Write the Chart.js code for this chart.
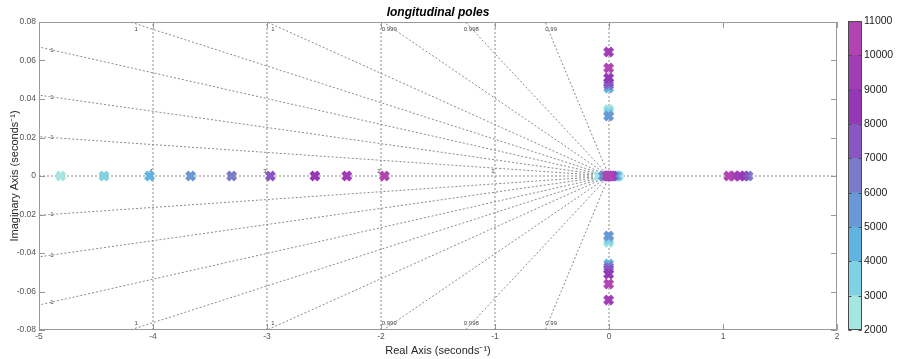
<!DOCTYPE html>
<html><head><meta charset="utf-8">
<script src="https://cdn.jsdelivr.net/npm/chart.js@4"></script>
<style>
html,body{margin:0;padding:0;background:#fff;}
#wrap{position:relative;width:898px;height:359px;overflow:hidden;}
#main{position:absolute;left:0;top:0;}
#cbar{position:absolute;left:840px;top:0;}
</style></head><body>
<div id="wrap"><canvas id="main" width="898" height="359"></canvas><canvas id="cbar" width="58" height="359"></canvas></div>
<script>
// ---- data ----
const speeds       = [2000, 3000, 4000, 5000, 6000, 7000, 8000, 9000, 10000];
const fastReal     = [-4.81, -4.43, -4.03, -3.67, -3.31, -2.97, -2.58, -2.30, -1.97];
const slowReal     = [-0.09, 0.08, 0.06, -0.05, -0.03, 0.035, 0.015, -0.01, 0.0];
const unstableReal = [null, null, null, null, 1.22, 1.19, 1.15, 1.10, 1.05];
const oscRe        = [-0.003, -0.003, -0.003, -0.003, -0.003, -0.003, -0.003, -0.003, -0.003];
const oscIm        = [0.0345, 0.0332, 0.0457, 0.0312, 0.0472, 0.0485, 0.0509, 0.0644, 0.0561];

const xTicks = [-5, -4, -3, -2, -1, 0, 1, 2];
const xTickLabels = ['-5', '-4', '-3', '-2', '-1', '0', '1', '2'];
const yTicks = [-0.08, -0.06, -0.04, -0.02, 0, 0.02, 0.04, 0.06, 0.08];
const yTickLabels = ['-0.08', '-0.06', '-0.04', '-0.02', '0', '0.02', '0.04', '0.06', '0.08'];

// damping-ratio grid lines: end points (upper half) and labels
const dampEnds   = [[-5, 0.0204], [-5, 0.042], [-5, 0.067], [-4.2, 0.08], [-3.0, 0.08], [-1.98, 0.08], [-1.26, 0.08], [-0.56, 0.08]];
const dampLabels = ['1', '1', '1', '1', '1', '0.999', '0.998', '0.99'];
// natural-frequency grid
const wnValues = [0, 1, 2, 3, 4];
const wnLabels = ['', '1', '2', '3', '4'];

// colorbar
const cbTicks  = [2000, 3000, 4000, 5000, 6000, 7000, 8000, 9000, 10000, 11000];
const cbColors = ['#a6e6e0', '#7fd2e4', '#62b4e0', '#6a98d4', '#7a7cca', '#8a56c2', '#9438b8', '#a03cb6', '#b044b0'];

// ---- build ----
const FONT = "'Liberation Sans', Arial, Helvetica, sans-serif";
const XMIN = -5, XMAX = 2, YMIN = -0.08, YMAX = 0.08;

function colorFor(v) {
  let i = Math.floor((v - cbTicks[0]) / (cbTicks[1] - cbTicks[0]));
  i = Math.max(0, Math.min(cbColors.length - 1, i));
  return cbColors[i];
}

const poles = [];
speeds.forEach((v, i) => { poles.push({x: fastReal[i], y: 0, v}); });
speeds.forEach((v, i) => { poles.push({x: slowReal[i], y: 0, v}); });
speeds.forEach((v, i) => { if (unstableReal[i] !== null) poles.push({x: unstableReal[i], y: 0, v}); });
speeds.forEach((v, i) => { poles.push({x: oscRe[i], y: oscIm[i], v}); });
speeds.forEach((v, i) => { poles.push({x: oscRe[i], y: -oscIm[i], v}); });

const gridStyle = {showLine: true, pointRadius: 0, pointHoverRadius: 0, borderColor: '#8a8a8a', borderWidth: 1, borderDash: [2, 2], fill: false, order: 1};
const datasets = [{
  label: 'poles', data: poles, order: 0,
  pointStyle: 'crossRot', pointRadius: 5.5, pointHoverRadius: 5.5, pointBorderWidth: 4.5, pointHoverBorderWidth: 4.5,
  pointBorderColor: c => colorFor(c.raw.v), pointBackgroundColor: c => colorFor(c.raw.v), showLine: false
}];
dampEnds.forEach(e => {
  datasets.push(Object.assign({data: [{x: 0, y: 0}, {x: e[0], y: e[1]}]}, gridStyle));
  datasets.push(Object.assign({data: [{x: 0, y: 0}, {x: e[0], y: -e[1]}]}, gridStyle));
});
wnValues.forEach(w => {
  datasets.push(Object.assign({data: [{x: -w, y: YMIN}, {x: -w, y: YMAX}]}, gridStyle));
});
datasets.push(Object.assign({data: [{x: XMIN, y: 0}, {x: XMAX, y: 0}]}, gridStyle));

const decor = {
  id: 'decor',
  beforeDatasetsDraw(chart) {
    const {ctx, chartArea: a, scales: {x, y}} = chart;
    ctx.save();
    // small grid labels
    ctx.fillStyle = '#444';
    ctx.font = '6px ' + FONT;
    ctx.textAlign = 'center';
    ctx.textBaseline = 'middle';
    dampEnds.forEach((e, i) => {
      const px = x.getPixelForValue(e[0]);
      if (e[1] >= YMAX) {
        ctx.fillText(dampLabels[i], px + 6, a.top + 7);
        ctx.fillText(dampLabels[i], px + 6, a.bottom - 7);
      } else {
        const lx = a.left + 13;
        const v = x.getValueForPixel(lx);
        const vy = e[1] * v / e[0];
        ctx.fillText(dampLabels[i], lx, y.getPixelForValue(vy));
        ctx.fillText(dampLabels[i], lx, y.getPixelForValue(-vy));
      }
    });
    wnValues.forEach((w, i) => {
      if (!wnLabels[i]) return;
      ctx.fillText(wnLabels[i], x.getPixelForValue(-w) - 2, y.getPixelForValue(0) - 5);
    });
    // box
    ctx.strokeStyle = '#9a9a9a';
    ctx.lineWidth = 1;
    ctx.strokeRect(Math.round(a.left) + 0.5, Math.round(a.top) + 0.5, Math.round(a.right - a.left) - 1, Math.round(a.bottom - a.top) - 1);
    // inward ticks
    ctx.beginPath();
    const L = 6;
    yTicks.forEach(t => {
      const py = Math.round(y.getPixelForValue(t)) + 0.5;
      ctx.moveTo(a.left, py); ctx.lineTo(a.left + L, py);
      ctx.moveTo(a.right, py); ctx.lineTo(a.right - L, py);
    });
    xTicks.forEach(t => {
      const px = Math.round(x.getPixelForValue(t)) + 0.5;
      ctx.moveTo(px, a.bottom); ctx.lineTo(px, a.bottom - L);
      ctx.moveTo(px, a.top); ctx.lineTo(px, a.top + L);
    });
    ctx.stroke();
    // title
    ctx.fillStyle = '#000';
    ctx.font = 'italic bold 12px ' + FONT;
    ctx.textAlign = 'center';
    ctx.textBaseline = 'alphabetic';
    ctx.fillText('longitudinal poles', (a.left + a.right) / 2, 15.5);
    ctx.restore();
  }
};

new Chart(document.getElementById('main'), {
  type: 'scatter',
  data: {datasets},
  options: {
    responsive: false, animation: false, events: [],
    layout: {padding: {left: 0, top: 22, right: 61, bottom: 0}},
    plugins: {legend: {display: false}, tooltip: {enabled: false}, title: {display: false}},
    scales: {
      x: {
        type: 'linear', min: XMIN, max: XMAX,
        afterBuildTicks: s => { s.ticks = xTicks.map(v => ({value: v})); },
        afterFit: s => { s.height = 29; },
        ticks: {callback: (v, i) => xTickLabels[i], color: '#555', font: {family: FONT, size: 8.5}, padding: 2, maxRotation: 0, autoSkip: false},
        grid: {display: false, drawTicks: false}, border: {display: false},
        title: {display: true, text: 'Real Axis (seconds\u207B\u00B9)', color: '#262626', font: {family: FONT, size: 11}, padding: {top: 0, bottom: 1.5}}
      },
      y: {
        type: 'linear', min: YMIN, max: YMAX,
        afterBuildTicks: s => { s.ticks = yTicks.map(v => ({value: v})); },
        afterFit: s => { s.width = 39; },
        ticks: {callback: (v, i) => yTickLabels[i], color: '#555', font: {family: FONT, size: 8.5}, padding: 3, autoSkip: false},
        grid: {display: false, drawTicks: false}, border: {display: false},
        title: {display: true, text: 'Imaginary Axis (seconds\u207B\u00B9)', color: '#262626', font: {family: FONT, size: 11}, padding: {top: 8, bottom: 0}}
      }
    }
  },
  plugins: [decor]
});

const cbDecor = {
  id: 'cbDecor',
  afterDatasetsDraw(chart) {
    const {ctx, chartArea: a, scales: {y}} = chart;
    ctx.save();
    ctx.strokeStyle = '#4a4a4a';
    ctx.lineWidth = 1;
    const l = Math.round(a.left) + 0.5, r = Math.round(a.right) - 0.5;
    ctx.strokeRect(l, Math.round(a.top) + 0.5, r - l, Math.round(a.bottom - a.top) - 1);
    ctx.beginPath();
    cbTicks.forEach(t => {
      const py = Math.round(y.getPixelForValue(t)) + 0.5;
      ctx.moveTo(l, py); ctx.lineTo(l + 3, py);
      ctx.moveTo(r, py); ctx.lineTo(r - 3, py);
    });
    ctx.stroke();
    ctx.restore();
  }
};

new Chart(document.getElementById('cbar'), {
  type: 'bar',
  data: {
    labels: ['c'],
    datasets: cbColors.map((c, i) => ({
      data: [[cbTicks[i], cbTicks[i + 1]]], backgroundColor: c, borderWidth: 0,
      grouped: false, barPercentage: 1, categoryPercentage: 1
    }))
  },
  options: {
    responsive: false, animation: false, events: [],
    layout: {padding: {left: 8, top: 21, right: 0, bottom: 29}},
    plugins: {legend: {display: false}, tooltip: {enabled: false}},
    scales: {
      x: {display: false},
      y: {
        position: 'right', min: cbTicks[0], max: cbTicks[cbTicks.length - 1],
        afterBuildTicks: s => { s.ticks = cbTicks.map(v => ({value: v})); },
        afterFit: s => { s.width = 36; },
        ticks: {callback: (v, i) => String(cbTicks[i]), color: '#1a1a1a', font: {family: FONT, size: 10.5}, padding: 2, autoSkip: false},
        grid: {display: false, drawTicks: false}, border: {display: false}
      }
    }
  },
  plugins: [cbDecor]
});
</script>
</body></html>
